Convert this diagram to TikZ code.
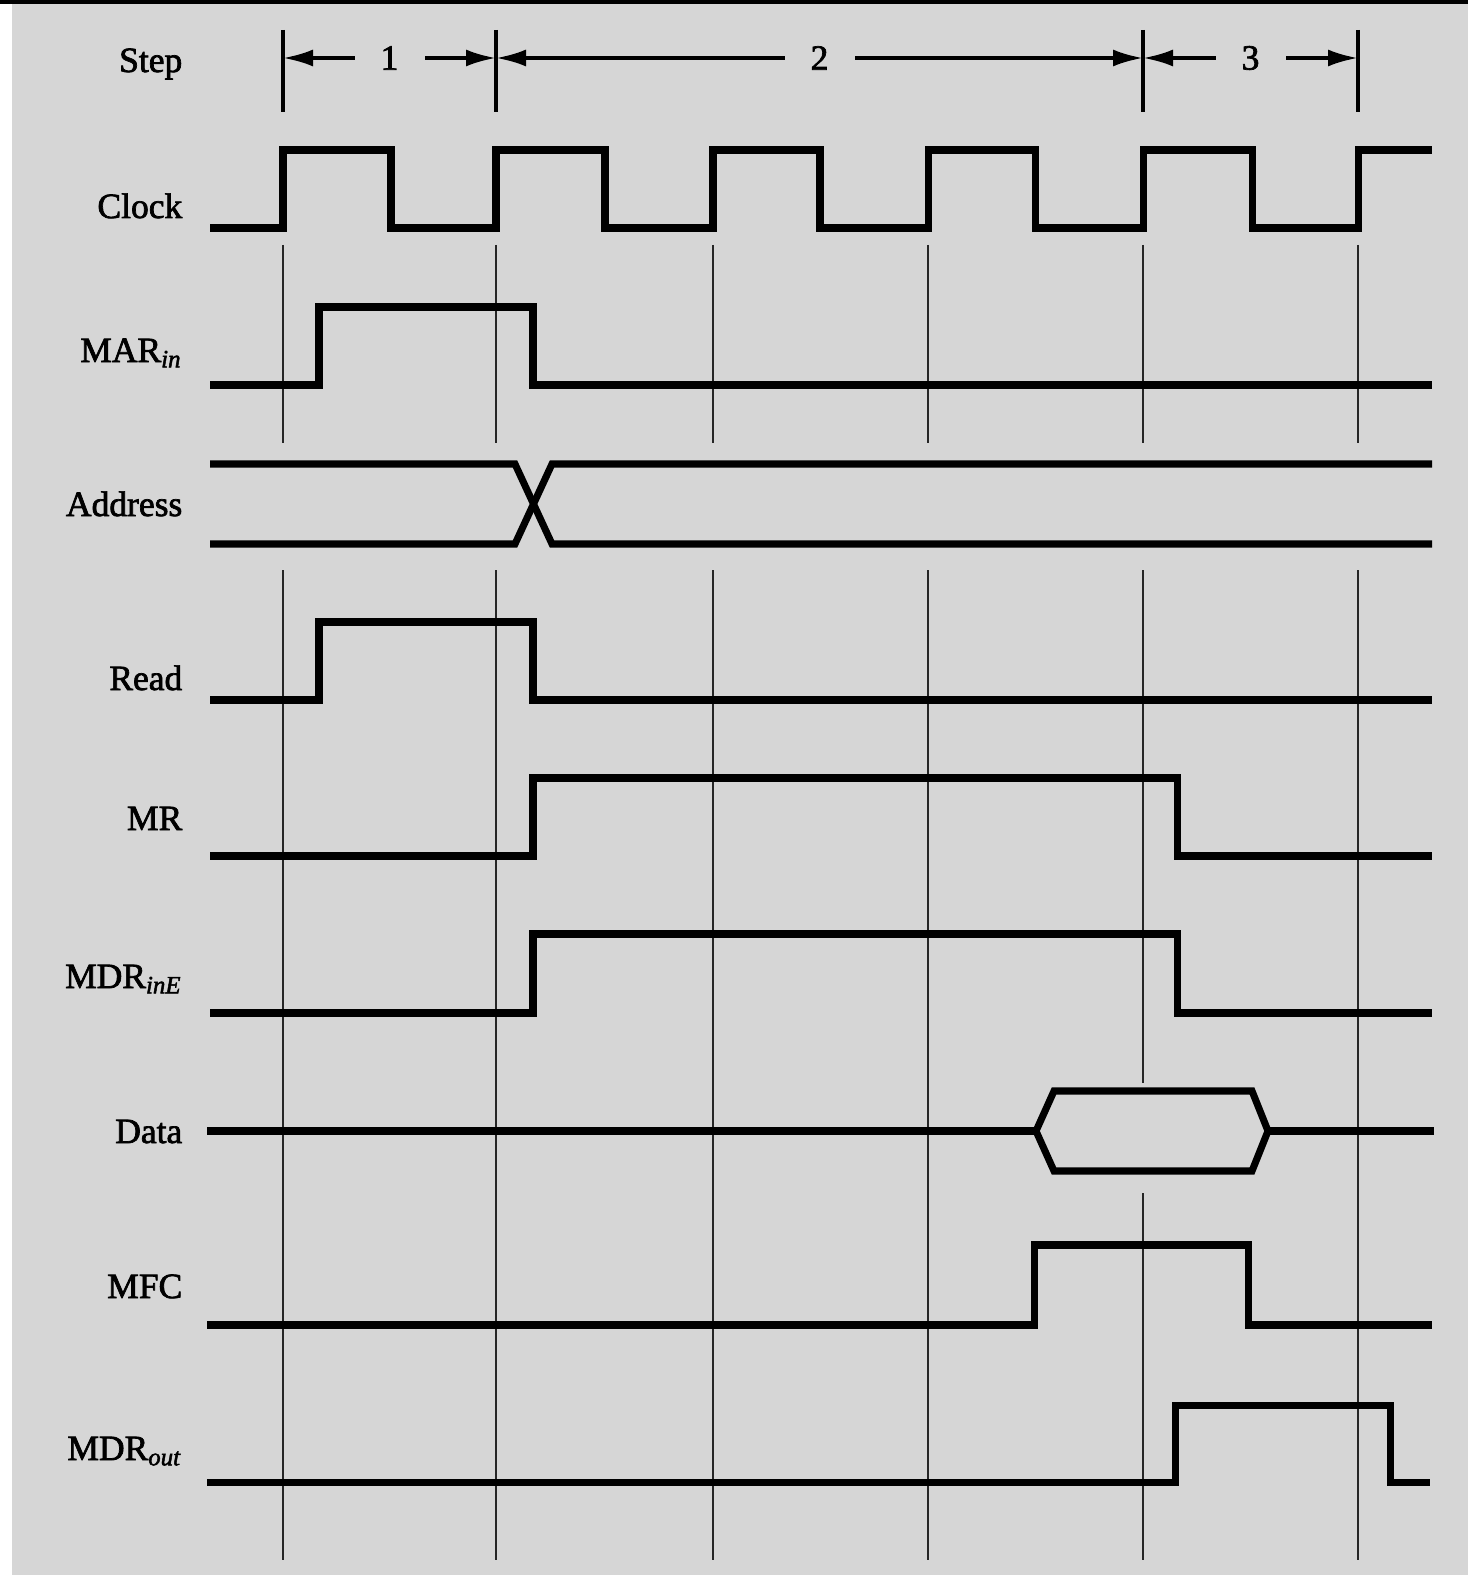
\documentclass[tikz,border=0pt]{standalone}
\usepackage{fontspec}
\setmainfont{Liberation Serif}
\newfontfamily\labelfont{Liberation Serif}[FakeBold=2]
\usetikzlibrary{arrows.meta}
\definecolor{scangray}{RGB}{214,214,214}
\tikzset{
  wave/.style={line width=2pt, line join=miter, line cap=butt},
  gridline/.style={line width=0.6pt, black!85},
  steptick/.style={line width=1pt},
  steparrow/.style={line width=1pt, {Latex[length=3mm,width=1.7mm]}-{Latex[length=3mm,width=1.7mm]}},
  signame/.style={anchor=base east, inner sep=0pt, font=\labelfont\fontsize{10.1}{12}\selectfont},
  stepnum/.style={fill=scangray, inner sep=0pt, minimum width=7mm, minimum height=4mm, font=\labelfont\fontsize{10.1}{12}\selectfont}
}
\begin{document}
\begin{tikzpicture}[x=0.1mm, y=-0.1mm]
    % page and scan margins
    \useasboundingbox (0,0) rectangle (1468,1575);
    \fill[white] (0,0) rectangle (1468,1575);
    \fill[scangray] (12,0) rectangle (1468,1575);
    \fill[black] (0,0) rectangle (1468,4);

    % grid lines at the clock edges
    \foreach \x in {283,496,713,928,1358} {
        \draw[gridline] (\x,245) -- (\x,443);
        \draw[gridline] (\x,570) -- (\x,1560);
    }
    \draw[gridline] (1143,245) -- (1143,443);
    \draw[gridline] (1143,570) -- (1143,1083);
    \draw[gridline] (1143,1193) -- (1143,1560);

    % signal names
    \node[signame] (nStep) at (183,72) {Step};
    \node[signame] (nClock) at (183,218) {Clock};
    \node[signame] (nMAR) at (183,362) {MAR\textsubscript{\textit{in}}};
    \node[signame] (nAddr) at (183,516) {Address};
    \node[signame] (nRead) at (183,690) {Read};
    \node[signame] (nMR) at (183,830) {MR};
    \node[signame] (nMDRin) at (183,988) {MDR\textsubscript{\textit{inE}}};
    \node[signame] (nData) at (183,1143) {Data};
    \node[signame] (nMFC) at (183,1298) {MFC};
    \node[signame] (nMDRout) at (183,1460) {MDR\textsubscript{\textit{out}}};

    % steps
    \foreach \x [count=\i from 0] in {283,496,1143,1358} {
        \draw[steptick] (\x,30) -- (\x,112);
        \coordinate (s\i) at (\x,58);
    }
    \draw[steparrow] (s0) -- (s1) node[stepnum, midway] (st1) {1};
    \draw[steparrow] (s1) -- (s2) node[stepnum, midway] (st2) {2};
    \draw[steparrow] (s2) -- (s3) node[stepnum, midway] (st3) {3};

    % waveforms
    \draw[wave] (210,228) -| (283,150) -| (391,228) -| (496,150) -| (605,228)
        -| (713,150) -| (820,228) -| (928,150) -| (1035,228) -| (1143,150)
        -| (1252,228) -| (1358,150) -- (1432,150);
    \draw[wave] (210,385) -| (319,307) -| (533,385) -- (1432,385);
    \draw[wave] (210,464) -- (515,464) -- (552,544) -- (1432,544);
    \draw[wave] (210,544) -- (515,544) -- (552,464) -- (1432,464);
    \draw[wave] (210,700) -| (319,622) -| (533,700) -- (1432,700);
    \draw[wave] (210,856) -| (533,778) -| (1177,856) -- (1432,856);
    \draw[wave] (210,1013) -| (533,934) -| (1177,1013) -- (1432,1013);
    \draw[wave] (207,1131) -- (1036,1131);
    \draw[wave] (1036,1131) -- (1054,1091) -- (1252,1091) -- (1268,1131)
        -- (1252,1171) -- (1054,1171) -- cycle;
    \draw[wave] (1268,1131) -- (1434,1131);
    \draw[wave] (207,1325) -| (1034,1245) -| (1248,1325) -- (1432,1325);
    \draw[wave] (207,1482) -| (1175,1405) -| (1390,1482) -- (1430,1482);
\end{tikzpicture}
\end{document}
